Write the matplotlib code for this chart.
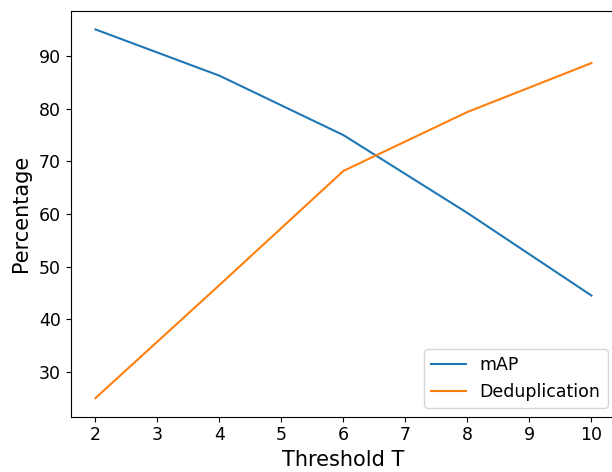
import matplotlib
matplotlib.use("Agg")
import matplotlib.pyplot as plt

thresholds = [2, 4, 6, 8, 10]
map_vals = [95.1, 86.3, 75.0, 60.2, 44.5]
dedup_vals = [25.0, 46.5, 68.2, 79.4, 88.7]

fig = plt.figure(figsize=(6.12, 4.72), dpi=100)
ax = fig.add_axes([70.7/612, 1-416.5/472, 545.5/612, 405.5/472])
ax.plot(thresholds, map_vals, label="mAP", color="#1f77b4")
ax.plot(thresholds, dedup_vals, label="Deduplication", color="#ff7f0e")
ax.set_xlabel("Threshold T", fontsize=15)
ax.set_ylabel("Percentage", fontsize=15, labelpad=6)
ax.tick_params(labelsize=12.5)
ax.set_xticks(range(2, 11))
ax.legend(loc="lower right", fontsize=12.5)
fig.savefig("out.png", dpi=100)
